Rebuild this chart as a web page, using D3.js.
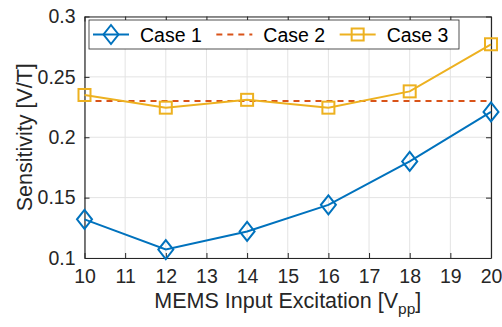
<!DOCTYPE html>
<html>
<head>
<meta charset="utf-8">
<script src="https://cdn.jsdelivr.net/npm/d3@7/dist/d3.min.js"></script>
<style>
  html, body { margin: 0; padding: 0; background: #fff; }
  svg { display: block; font-family: "Liberation Sans", Arial, Helvetica, sans-serif; }
</style>
</head>
<body>
<svg id="chart" width="502" height="327"></svg>
<script>
// Excitation amplitudes (Vpp) and measured sensitivities (V/T)
const excitation = [10, 12, 14, 16, 18, 20];
const case1 = [0.132, 0.107, 0.122, 0.144, 0.180, 0.221];
const case2 = [0.230, 0.230, 0.230, 0.230, 0.230, 0.230];
const case3 = [0.235, 0.2245, 0.231, 0.2245, 0.238, 0.277];
const seriesNames = ["Case 1", "Case 2", "Case 3"];
const xTicks = [10, 11, 12, 13, 14, 15, 16, 17, 18, 19, 20];
const yTicks = [0.1, 0.15, 0.2, 0.25, 0.3];

const colors = ["#0072BD", "#D95319", "#EDB120"];
const axisColor = "#262626";
const gridColor = "#e3e3e3";
const tickFont = 19.5, labelFont = 21.5, legendFont = 19.5;

const svg = d3.select("#chart");
const plot = { left: 84.5, right: 491, top: 16.5, bottom: 258 };

const x = d3.scaleLinear().domain([10, 20]).range([plot.left, plot.right]);
const y = d3.scaleLinear().domain([0.1, 0.3]).range([plot.bottom, plot.top]);

// Grid
const grid = svg.append("g");
grid.selectAll("line.gx").data(xTicks).join("line")
  .attr("x1", d => x(d)).attr("x2", d => x(d))
  .attr("y1", plot.top).attr("y2", plot.bottom)
  .attr("stroke", gridColor).attr("stroke-width", 1);
grid.selectAll("line.gy").data(yTicks).join("line")
  .attr("x1", plot.left).attr("x2", plot.right)
  .attr("y1", d => y(d)).attr("y2", d => y(d))
  .attr("stroke", gridColor).attr("stroke-width", 1);

// Axes with inward ticks on all four sides
function styleAxis(g) {
  g.selectAll("path.domain").attr("stroke", axisColor).attr("stroke-width", 1.2);
  g.selectAll(".tick line").attr("stroke", axisColor).attr("stroke-width", 1);
  g.selectAll(".tick text").attr("fill", axisColor)
    .style("font-size", tickFont + "px").style("font-family", '"Liberation Sans", Arial, sans-serif');
}
const xAxisB = svg.append("g").attr("transform", `translate(0,${plot.bottom})`)
  .call(d3.axisBottom(x).tickValues(xTicks).tickFormat(d3.format("d")).tickSizeInner(-5).tickSizeOuter(0).tickPadding(11));
styleAxis(xAxisB);
const xAxisT = svg.append("g").attr("transform", `translate(0,${plot.top})`)
  .call(d3.axisTop(x).tickValues(xTicks).tickFormat("").tickSizeInner(-5).tickSizeOuter(0));
styleAxis(xAxisT);
const yAxisL = svg.append("g").attr("transform", `translate(${plot.left},0)`)
  .call(d3.axisLeft(y).tickValues(yTicks).tickFormat(d => d3.format("")(+d.toFixed(2))).tickSizeInner(-5).tickSizeOuter(0).tickPadding(9));
styleAxis(yAxisL);
const yAxisR = svg.append("g").attr("transform", `translate(${plot.right},0)`)
  .call(d3.axisRight(y).tickValues(yTicks).tickFormat("").tickSizeInner(-5).tickSizeOuter(0));
styleAxis(yAxisR);

// Markers
function diamond(g, cx, cy, color) {
  const w = 7.5, h = 9.5;
  g.append("path")
    .attr("d", `M${cx},${cy - h}L${cx + w},${cy}L${cx},${cy + h}L${cx - w},${cy}Z`)
    .attr("fill", "none").attr("stroke", color).attr("stroke-width", 2);
}
function square(g, cx, cy, color) {
  const s = 6;
  g.append("rect").attr("x", cx - s).attr("y", cy - s).attr("width", 2 * s).attr("height", 2 * s)
    .attr("fill", "none").attr("stroke", color).attr("stroke-width", 2);
}

const line = d3.line().x(d => x(d[0])).y(d => y(d[1]));
const series = [case1, case2, case3];
const dashes = [null, "6,5", null];

// Series lines, then markers (diamonds for Case 1, squares for Case 3)
const marks = svg.append("g");
series.forEach((vals, i) => {
  const pts = excitation.map((e, j) => [e, vals[j]]);
  marks.append("path").datum(pts).attr("d", line)
    .attr("fill", "none").attr("stroke", colors[i]).attr("stroke-width", 2)
    .attr("stroke-dasharray", dashes[i]);
});
series.forEach((vals, i) => {
  excitation.forEach((e, j) => {
    if (i === 0) diamond(marks, x(e), y(vals[j]), colors[i]);
    if (i === 2) square(marks, x(e), y(vals[j]), colors[i]);
  });
});

// Legend
const leg = svg.append("g");
const legBox = { x: 89, y: 20, w: 370, h: 29 };
leg.append("rect").attr("x", legBox.x).attr("y", legBox.y).attr("width", legBox.w).attr("height", legBox.h)
  .attr("fill", "#fff").attr("stroke", axisColor).attr("stroke-width", 0.8);
const entryW = legBox.w / 3;
const cy = legBox.y + legBox.h / 2;
seriesNames.forEach((name, i) => {
  const x0 = legBox.x + i * entryW;
  leg.append("line").attr("x1", x0 + 4).attr("x2", x0 + 40).attr("y1", cy).attr("y2", cy)
    .attr("stroke", colors[i]).attr("stroke-width", 2).attr("stroke-dasharray", dashes[i]);
  if (i === 0) diamond(leg, x0 + 22, cy, colors[i]);
  if (i === 2) square(leg, x0 + 22, cy, colors[i]);
  leg.append("text").attr("x", x0 + 51).attr("y", cy + 7)
    .attr("fill", "#000").style("font-size", legendFont + "px").text(name);
});

// Axis labels
const xl = svg.append("text").attr("x", (plot.left + plot.right) / 2).attr("y", 308)
  .attr("text-anchor", "middle").attr("fill", axisColor).style("font-size", labelFont + "px");
xl.append("tspan").text("MEMS Input Excitation [V");
xl.append("tspan").attr("dy", 6).style("font-size", (labelFont * 0.72) + "px").text("pp");
xl.append("tspan").attr("dy", -6).text("]");

svg.append("text").attr("transform", `translate(32,${(plot.top + plot.bottom) / 2}) rotate(-90)`)
  .attr("text-anchor", "middle").attr("fill", axisColor).style("font-size", labelFont + "px")
  .text("Sensitivity [V/T]");
</script>
</body>
</html>
